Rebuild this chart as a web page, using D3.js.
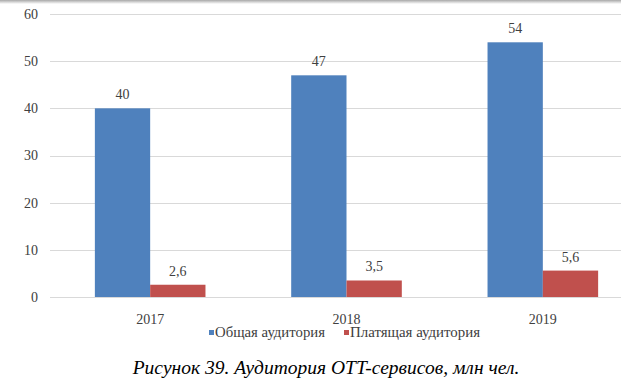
<!DOCTYPE html>
<html>
<head>
<meta charset="utf-8">
<script src="https://cdn.jsdelivr.net/npm/d3@7.9.0/dist/d3.min.js"></script>
<style>
  body { margin: 0; background: #fff; }
  svg { display: block; font-family: "Liberation Serif", "Times New Roman", serif; }
</style>
</head>
<body>
<svg id="chart" width="621" height="383"></svg>
<script>
const years = ['2017', '2018', '2019'];
const seriesNames = ['Общая аудитория', 'Платящая аудитория'];
const totalAudience = [40, 47, 54];
const payingAudience = [2.6, 3.5, 5.6];
const yTicks = [0, 10, 20, 30, 40, 50, 60];
const caption = 'Рисунок 39. Аудитория OTT-сервисов, млн чел.';

const colors = ['#4f81bd', '#c0504d'];
const rows = years.map((y, i) => ({ year: y, values: [totalAudience[i], payingAudience[i]] }));

const svg = d3.select('#chart');

// faint shadow line on top edge
const grad = svg.append('defs').append('linearGradient')
  .attr('id', 'topShade').attr('x1', 0).attr('y1', 0).attr('x2', 0).attr('y2', 1);
grad.append('stop').attr('offset', '0%').attr('stop-color', '#a8a8a8');
grad.append('stop').attr('offset', '100%').attr('stop-color', '#ffffff');
svg.append('rect').attr('x', 0).attr('y', 0).attr('width', 621).attr('height', 4)
  .attr('fill', 'url(#topShade)');

const x0 = d3.scaleBand().domain(years).range([52, 641]).padding(0);
const x1 = d3.scaleBand().domain([0, 1]).range([0, x0.bandwidth()])
  .paddingInner(0).paddingOuter(0.775);
const y = d3.scaleLinear().domain([0, 60]).range([297, 14]);

// gridlines
svg.append('g').selectAll('line').data(yTicks).join('line')
  .attr('x1', 50).attr('x2', 621)
  .attr('y1', d => Math.round(y(d)) + 0.5).attr('y2', d => Math.round(y(d)) + 0.5)
  .attr('stroke', '#d9d9d9').attr('stroke-width', 1);

// y axis labels
const yAxis = d3.axisLeft(y).tickValues(yTicks).tickSize(0).tickPadding(0);
svg.append('g').attr('transform', 'translate(38,0)').call(yAxis)
  .call(g => g.select('.domain').remove())
  .selectAll('text')
  .attr('font-family', '"Liberation Serif", serif')
  .attr('font-size', 14).attr('fill', '#404040');

// bars
const groups = svg.append('g').selectAll('g').data(rows).join('g')
  .attr('transform', d => `translate(${x0(d.year)},0)`);

groups.selectAll('rect').data(d => d.values.map((v, i) => ({ v, i }))).join('rect')
  .attr('x', d => x1(d.i))
  .attr('width', x1.bandwidth())
  .attr('y', d => y(d.v))
  .attr('height', d => y(0) - y(d.v))
  .attr('fill', d => colors[d.i]);

const fmt = v => String(v).replace('.', ',');
groups.selectAll('text').data(d => d.values.map((v, i) => ({ v, i }))).join('text')
  .attr('x', d => x1(d.i) + x1.bandwidth() / 2)
  .attr('y', d => y(d.v) - 9)
  .attr('text-anchor', 'middle')
  .attr('font-size', 14).attr('fill', '#404040')
  .text(d => fmt(d.v));

// category labels
const xAxis = d3.axisBottom(x0).tickSize(0).tickPadding(0);
svg.append('g').attr('transform', 'translate(0,314)').call(xAxis)
  .call(g => g.select('.domain').remove())
  .selectAll('text')
  .attr('font-family', '"Liberation Serif", serif')
  .attr('font-size', 14).attr('fill', '#404040');

// legend
const legendX = [209, 344];
const legend = svg.append('g').selectAll('g').data(seriesNames).join('g')
  .attr('transform', (d, i) => `translate(${legendX[i]},337)`);
legend.append('rect').attr('x', 0).attr('y', -7).attr('width', 5).attr('height', 5)
  .attr('fill', (d, i) => colors[i]);
legend.append('text').attr('x', 6).attr('y', 0)
  .attr('font-size', 14).attr('fill', '#404040')
  .attr('textLength', (d, i) => [110, 130][i])
  .attr('lengthAdjust', 'spacingAndGlyphs')
  .text(d => d);

// caption
svg.append('text').attr('x', 326).attr('y', 374)
  .attr('text-anchor', 'middle')
  .attr('font-size', 19.5).attr('font-style', 'italic').attr('fill', '#000')
  .text(caption);
</script>
</body>
</html>
